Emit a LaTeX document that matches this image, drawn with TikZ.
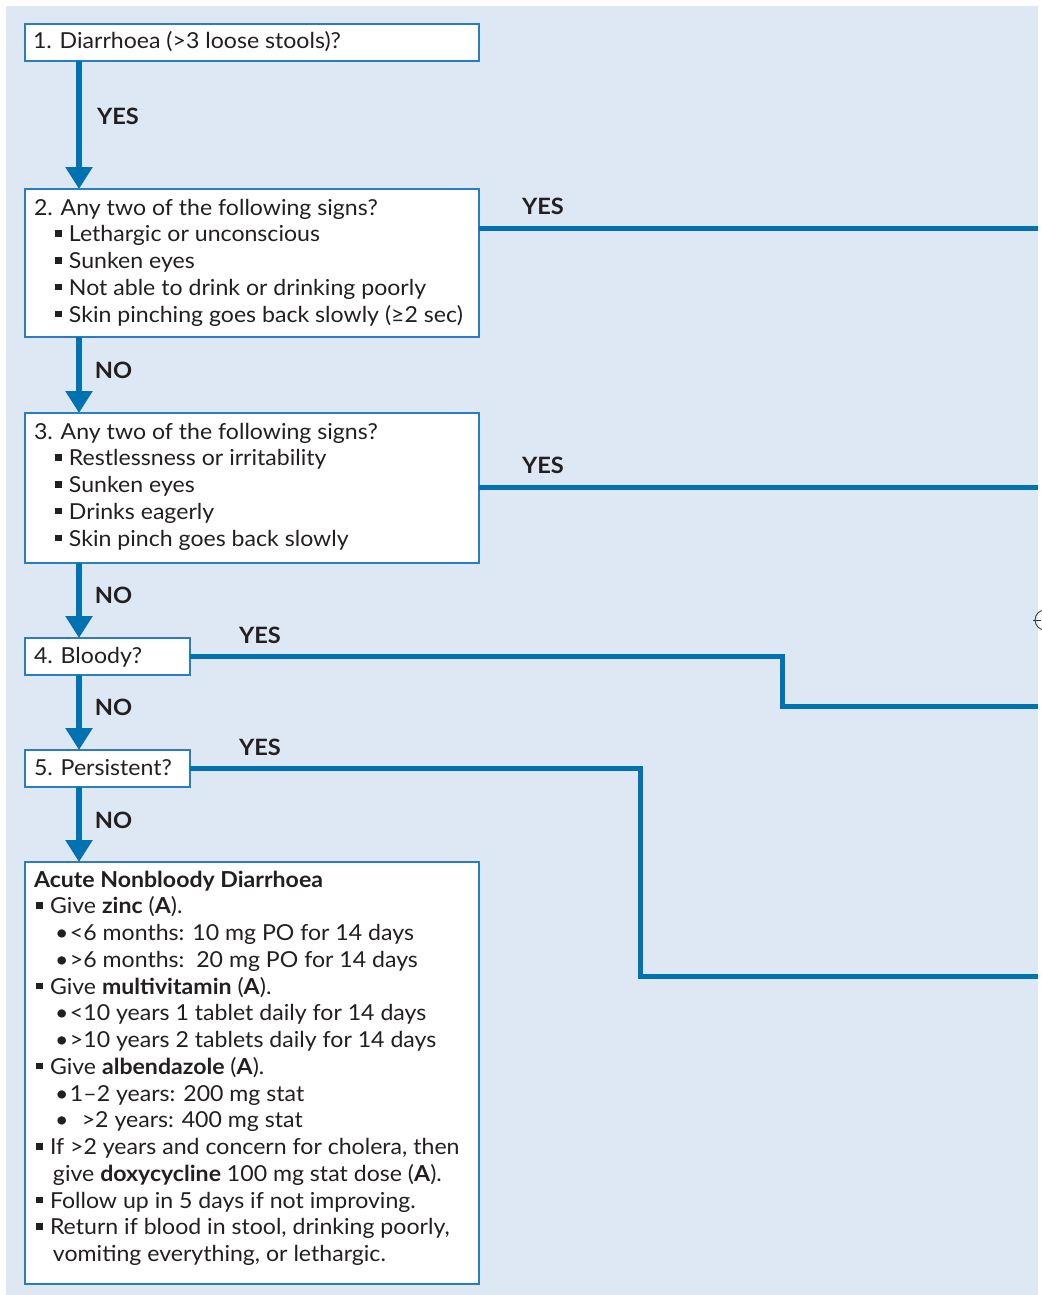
\documentclass[tikz,border=0pt]{standalone}
\usepackage{fontspec}
\setmainfont{Lato}[FakeStretch=1.05]
\usetikzlibrary{arrows.meta}
\definecolor{bgblue}{HTML}{DEE8F4}
\definecolor{lineblue}{HTML}{0071B1}
\definecolor{boxblue}{HTML}{2A7DBF}
\definecolor{txtc}{HTML}{231F20}
\newcommand\sqb{\rule[5pt]{6.5pt}{6.5pt}}
\newcommand\TL[1]{\hbox{#1}}
\newcommand\IA[1]{\hbox{\kern21pt\rlap{\sqb}\kern14pt #1}}
\newcommand\IB[1]{\hbox{\kern2pt\rlap{\sqb}\kern14pt #1}}
\newcommand\IC[1]{\hbox{\kern21pt\rlap{•}\kern15pt #1}}
\newcommand\ID[1]{\hbox{\kern19pt #1}}
\tikzset{
  box/.style={draw=boxblue, line width=1.5pt, fill=white, inner sep=0pt, outer sep=0pt},
  body/.style={anchor=base west, inner sep=0pt, outer sep=0pt, text=txtc, font=\fontsize{22}{26.75}\selectfont},
  lbl/.style={anchor=center, inner sep=0pt, text=txtc, font=\fontsize{22.5}{23}\selectfont\bfseries},
  arr/.style={draw=lineblue, line width=5.5pt, -{Triangle[width=26pt,length=22pt]}},
  conn/.style={draw=lineblue, line width=5pt},
}
\begin{document}
\begin{tikzpicture}[x=1pt,y=-1pt]
\useasboundingbox (0,0) rectangle (1041,1295);
\fill[bgblue] (6,6) rectangle (1038,1295);
% registration mark fragment
\draw[black!80, line width=0.8pt] (1045,620) circle (10);
\draw[black!80, line width=0.8pt] (1033,620) -- (1041,620);

\coordinate (ax) at (79,0);
\coordinate (r2) at (1038,228);
\coordinate (r3) at (1038,487);
\coordinate (k4) at (782.5,706);
\coordinate (r4) at (1038,706);
\coordinate (k5) at (640,976);
\coordinate (r5) at (1038,976);

\node[box, minimum width=454pt, minimum height=37pt] (b1) at (252,42.5) {};
\node[box, minimum width=454pt, minimum height=148pt] (b2) at (252,263) {};
\node[box, minimum width=454pt, minimum height=150pt] (b3) at (252,488) {};
\node[box, minimum width=165pt, minimum height=37pt] (b4) at (107.5,656.5) {};
\node[box, minimum width=165pt, minimum height=37pt] (b5) at (107.5,768.5) {};
\node[box, minimum width=454pt, minimum height=422pt] (b6) at (252,1073) {};

\node[body] (t1) at (33,49) {1. Diarrhoea (>3 loose stools)?};
\node[body] (t2) at (34,215) {\vtop{\TL{2. Any two of the following signs?}
  \IA{Lethargic or unconscious}
  \IA{Sunken eyes}
  \IA{Not able to drink or drinking poorly}
  \IA{Skin pinching goes back slowly (≥2 sec)}}};
\node[body] (t3) at (34,439) {\vtop{\TL{3. Any two of the following signs?}
  \IA{Restlessness or irritability}
  \IA{Sunken eyes}
  \IA{Drinks eagerly}
  \IA{Skin pinch goes back slowly}}};
\node[body] (t4) at (34,663) {4. Bloody?};
\node[body] (t5) at (34,775) {5. Persistent?};
\node[body] (t6) at (34,887) {\vtop{\TL{\bfseries Acute Nonbloody Diarrhoea}
  \IB{Give \textbf{zinc} (\textbf{A}).}
  \IC{<6 months: 10 mg PO for 14 days}
  \IC{>6 months:\ \ 20 mg PO for 14 days}
  \IB{Give \textbf{multivitamin} (\textbf{A}).}
  \IC{<10 years 1 tablet daily for 14 days}
  \IC{>10 years 2 tablets daily for 14 days}
  \IB{Give \textbf{albendazole} (\textbf{A}).}
  \IC{1–2 years: 200 mg stat}
  \IC{\ \ >2 years: 400 mg stat}
  \IB{If >2 years and concern for cholera, then}
  \ID{give \textbf{doxycycline} 100 mg stat dose (\textbf{A}).}
  \IB{Follow up in 5 days if not improving.}
  \IB{Return if blood in stool, drinking poorly,}
  \ID{vomiting everything, or lethargic.}}};

\draw[arr] (b1.south -| ax) -- (b2.north -| ax);
\draw[arr] (b2.south -| ax) -- (b3.north -| ax);
\draw[arr] (b3.south -| ax) -- (b4.north -| ax);
\draw[arr] (b4.south -| ax) -- (b5.north -| ax);
\draw[arr] (b5.south -| ax) -- (b6.north -| ax);

\draw[conn] (b2.east |- r2) -- (r2);
\draw[conn] (b3.east |- r3) -- (r3);
\draw[conn] (b4.east) -| (k4) -- (r4);
\draw[conn] (b5.east) -| (k5) -- (r5);

\node[lbl] (y1) at (118,116) {YES};
\node[lbl] (n2) at (113.5,370.5) {NO};
\node[lbl] (n3) at (113.5,595) {NO};
\node[lbl] (n4) at (113.5,707) {NO};
\node[lbl] (n5) at (113.5,820) {NO};
\node[lbl] (y2) at (543,206) {YES};
\node[lbl] (y3) at (543,465) {YES};
\node[lbl] (y4) at (260,635) {YES};
\node[lbl] (y5) at (260,747) {YES};
\end{tikzpicture}
\end{document}
